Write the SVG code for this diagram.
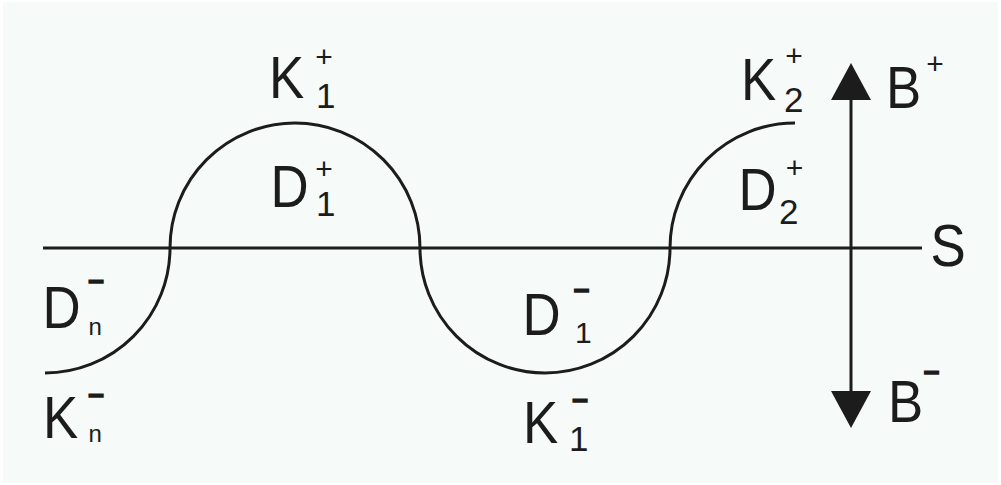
<svg xmlns="http://www.w3.org/2000/svg" width="1001" height="485" viewBox="0 0 1001 485">
<style>
  .ln{fill:none;stroke:#1c1c1c;stroke-width:3}
  text{font-family:"Liberation Sans",Arial,sans-serif;fill:#1c1c1c}
  .big{font-size:60px}
  .sub{font-size:35px}
  .subn{font-size:24px}
  .sup{font-size:30px;text-anchor:middle}
  .min{font-size:28px;font-weight:bold;text-anchor:middle;stroke:#1c1c1c;stroke-width:1.4}
</style>
<defs>
  <marker id="arr" viewBox="0 0 37 40" refX="0" refY="20" markerWidth="37" markerHeight="40" markerUnits="userSpaceOnUse" orient="auto-start-reverse">
    <path d="M0,0 L37,20 L0,40 z" fill="#1c1c1c"/>
  </marker>
</defs>
<rect x="0" y="0" width="1001" height="485" fill="#ffffff"/>
<rect x="3" y="2" width="995" height="481" fill="#f6faf8"/>
<g id="connectors">
  <line class="ln" x1="43" y1="248" x2="922" y2="248"/>
  <path class="ln" d="M45,373 A125,125 0 0 0 170,248 A125,125 0 0 1 420,248 A125,125 0 0 0 670,248 A125,125 0 0 1 795,123"/>
  <line class="ln" x1="851" y1="100" x2="851" y2="391" marker-start="url(#arr)" marker-end="url(#arr)"/>
</g>
<g id="K1plus">
  <text class="big" transform="translate(269,98) scale(0.88,1)">K</text>
  <text class="sub" x="316" y="108">1</text>
  <text class="sup" x="324" y="67">+</text>
</g>
<g id="D1plus">
  <text class="big" transform="translate(270.5,207) scale(0.88,1)">D</text>
  <text class="sub" x="316" y="216">1</text>
  <text class="sup" x="324" y="179">+</text>
</g>
<g id="K2plus">
  <text class="big" transform="translate(741,100) scale(0.88,1)">K</text>
  <text class="sub" x="784" y="112">2</text>
  <text class="sup" x="794" y="65.5">+</text>
</g>
<g id="D2plus">
  <text class="big" transform="translate(738.5,210) scale(0.88,1)">D</text>
  <text class="sub" x="779" y="224">2</text>
  <text class="sup" x="794.5" y="178">+</text>
</g>
<g id="Bplus">
  <text class="big" transform="translate(886,108) scale(0.88,1)">B</text>
  <text class="sup" x="935" y="74">+</text>
</g>
<g id="S">
  <text class="big" transform="translate(930.5,266) scale(0.88,1)">S</text>
</g>
<g id="Bminus">
  <text class="big" transform="translate(888,422) scale(0.88,1)">B</text>
  <text class="min" x="931.5" y="380">–</text>
</g>
<g id="Dnminus">
  <text class="big" transform="translate(42.5,328) scale(0.88,1)">D</text>
  <text class="subn" x="88.5" y="335">n</text>
  <text class="min" x="96" y="289">–</text>
</g>
<g id="Knminus">
  <text class="big" transform="translate(43,438) scale(0.88,1)">K</text>
  <text class="subn" x="88.5" y="442">n</text>
  <text class="min" x="96" y="403">–</text>
</g>
<g id="D1minus">
  <text class="big" transform="translate(522.5,335) scale(0.88,1)">D</text>
  <text class="sub" x="575" y="343" style="font-size:30px">1</text>
  <text class="min" x="581.5" y="298">–</text>
</g>
<g id="K1minus">
  <text class="big" transform="translate(523,443) scale(0.88,1)">K</text>
  <text class="sub" x="569" y="451">1</text>
  <text class="min" x="580" y="408">–</text>
</g>
</svg>
